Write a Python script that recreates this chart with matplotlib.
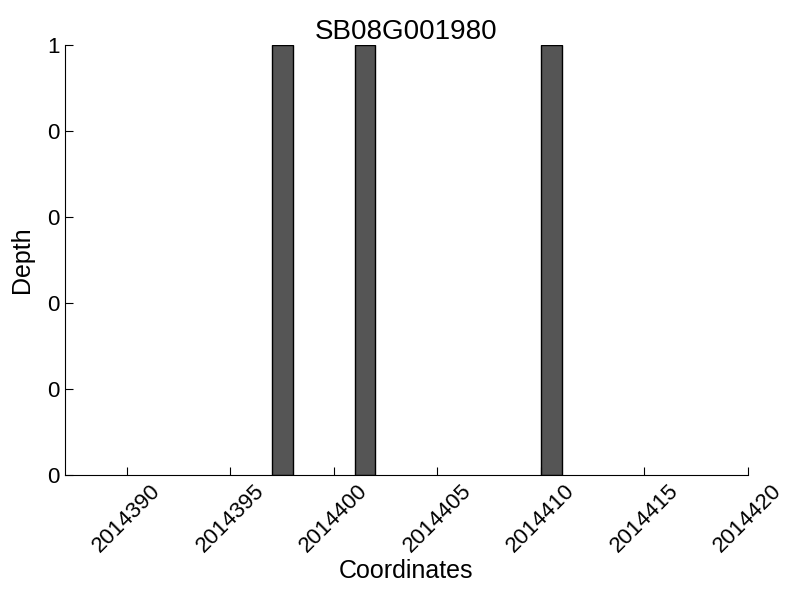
import matplotlib
matplotlib.use('Agg')
import matplotlib.pyplot as plt
from matplotlib.ticker import FormatStrFormatter

plt.rcParams['font.family'] = ['Liberation Sans', 'DejaVu Sans']

# data
gene = 'SB08G001980'
positions = [2014397, 2014401, 2014410]
depth = [1, 1, 1]
xticks = [2014390, 2014395, 2014400, 2014405, 2014410, 2014415, 2014420]
yticks = [0, 0.2, 0.4, 0.6, 0.8, 1.0]

fig = plt.figure(figsize=(8, 6), dpi=100)
ax = fig.add_axes([0.081, 0.208, 0.854, 0.717])

ax.bar(positions, depth, width=1, align='edge', color='#555555',
       edgecolor='black', linewidth=1)

ax.set_xlim(2014387, 2014420)
ax.set_ylim(0, 1)
ax.set_xticks(xticks)
ax.set_yticks(yticks)
ax.xaxis.set_major_formatter(FormatStrFormatter('%d'))
ax.yaxis.set_major_formatter(FormatStrFormatter('%d'))
for lbl in ax.get_xticklabels():
    lbl.set_rotation(45)

ax.tick_params(direction='in', length=6, labelsize=16, top=False, right=False)
ax.spines['top'].set_visible(False)
ax.spines['right'].set_visible(False)

ax.set_title(gene, fontsize=20, pad=3)
ax.set_xlabel('Coordinates', fontsize=18, labelpad=2)
ax.set_ylabel('Depth', fontsize=18, labelpad=10)

fig.savefig('out.png', dpi=100)
